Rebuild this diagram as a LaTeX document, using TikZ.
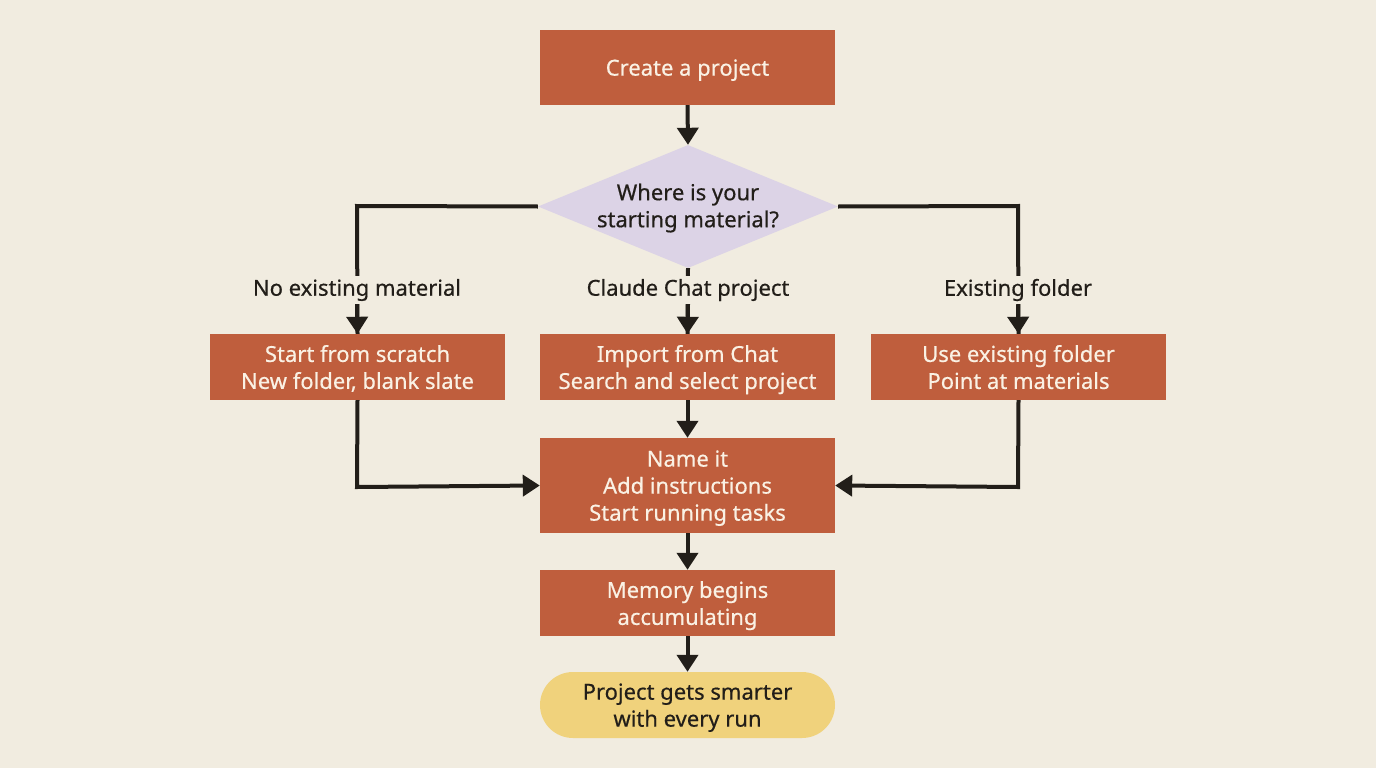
\documentclass[tikz,border=0pt]{standalone}
\usepackage{fontspec}
\setmainfont{Noto Sans}[FakeBold=0.5]
\usetikzlibrary{shapes.geometric,arrows.meta}
\definecolor{bg}{HTML}{F1ECE0}
\definecolor{boxc}{HTML}{BF5E3D}
\definecolor{txtc}{HTML}{FAF1E4}
\definecolor{diac}{HTML}{DCD3E6}
\definecolor{pillc}{HTML}{F0D27C}
\definecolor{linec}{HTML}{221E19}
\tikzset{
  fnt/.style={font=\fontsize{22}{27}\bfseries\selectfont},
  box/.style={rectangle, fill=boxc, text=txtc, minimum width=295pt, align=center, inner sep=0pt, text depth=0pt, fnt},
  lbl/.style={fill=bg, text=linec, inner sep=3pt, fnt},
  conn/.style={draw=linec, line width=4pt, -{Triangle[length=17pt,width=21pt]}},
  plain/.style={draw=linec, line width=4pt},
}
\begin{document}
\begin{tikzpicture}[x=1pt,y=-1pt]
\useasboundingbox[fill=bg] (0,0) rectangle (1376,768);
\node[box, minimum height=75pt] (create) at (687.5,67.5) {Create a project};
\node[diamond, fill=diac, minimum width=300pt, minimum height=123pt, aspect=2.4, inner sep=0pt] (dia) at (688,206.5) {};
\node[text=linec, align=center, fnt] (diat) at (688,208) {Where is your\\starting material?};
\node[box, minimum height=66pt] (scratch) at (357.5,367) {Start from scratch\\New folder, blank slate};
\node[box, minimum height=66pt] (import) at (687.5,367) {Import from Chat\\Search and select project};
\node[box, minimum height=66pt] (exist) at (1018.5,367) {Use existing folder\\Point at materials};
\node[box, minimum height=95pt] (name) at (687.5,485.5) {Name it\\Add instructions\\Start running tasks};
\node[box, minimum height=66pt] (mem) at (687.5,603) {Memory begins\\accumulating};
\node[rectangle, rounded corners=33pt, fill=pillc, minimum width=295pt, minimum height=66pt, text=linec, align=center, inner sep=0pt, text depth=0pt, fnt] (pill) at (687.5,705) {Project gets smarter\\with every run};
\coordinate (lc) at (357,206);
\coordinate (rc) at (1018,206);
\coordinate (lb) at (357,487);
\coordinate (rb) at (1018,487);
% connectors
\draw[conn] (create.south) -- (dia.north);
\draw[plain] (dia.west) -- (lc) -- (scratch.north);
\draw[plain] (dia.east) -- (rc) -- (exist.north);
\draw[plain] (dia.south) -- (import.north);
\node[lbl] (l1) at (357,290) {No existing material};
\node[lbl] (l2) at (688,290) {Claude Chat project};
\node[lbl] (l3) at (1018,290) {Existing folder};
\draw[conn] (l1.south) -- (scratch.north);
\draw[conn] (l2.south) -- (import.north);
\draw[conn] (l3.south) -- (exist.north);
\draw[conn] (import.south) -- (name.north);
\draw[conn] (scratch.south) -- (lb) -- (name.west);
\draw[conn] (exist.south) -- (rb) -- (name.east);
\draw[conn] (name.south) -- (mem.north);
\draw[conn] (mem.south) -- (pill.north);
\end{tikzpicture}
\end{document}
